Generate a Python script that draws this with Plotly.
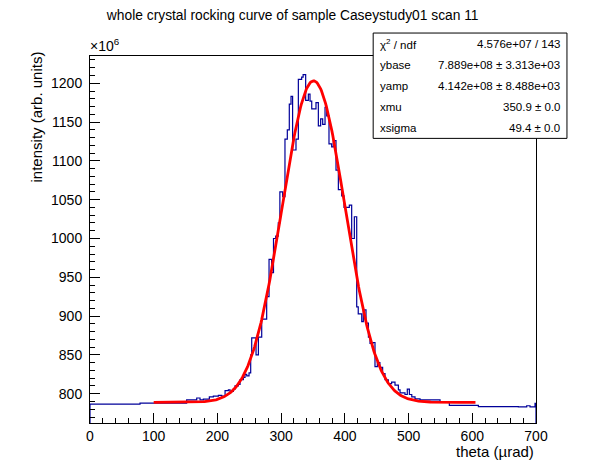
import numpy as np
import plotly.graph_objects as go

# histogram: left bin edges (urad) and contents (x 1e6)
bin_left = [0, 78.5, 151.7, 167.5, 172.7, 177.9, 187.3, 193.6, 201.5, 206.7,
            212.0, 217.2, 219.8, 225.0, 227.6, 232.9, 235.5, 240.7, 243.3, 246.0,
            249.6, 252.2, 253.8, 260.6, 264.3, 269.5, 277.3, 281.0, 285.0, 288.0,
            291.4, 295.5, 298.0, 302.4, 306.0, 309.7, 312.8, 315.5, 318.0, 323.3,
            327.0, 332.2, 334.5, 338.5, 342.7, 345.3, 348.0, 354.7, 358.4, 362.0,
            365.2, 368.9, 371.5, 375.1, 379.3, 381.9, 386.1, 389.8, 395.0, 398.7,
            407.0, 410.7, 414.9, 418.6, 421.0, 426.5, 429.0, 433.2, 437.0, 439.5,
            444.0, 447.3, 451.0, 455.0, 459.3, 463.0, 468.2, 473.4, 478.7, 484.0,
            486.6, 494.4, 498.0, 501.3, 505.0, 510.1, 518.0, 549.4, 564.0, 609.6,
            672.3, 685.4, 690.6, 698.5]
bin_val = [786.5, 787.8, 792, 794.5, 792, 793, 796, 797, 798, 797,
           804, 805, 803, 806, 810, 812, 818, 821, 825, 823,
           827, 850, 872, 850, 873, 896, 925, 973, 956, 1000,
           1003, 1020, 1060, 1054, 1128, 1140, 1173, 1183, 1114, 1128,
           1205, 1208, 1211, 1178, 1186, 1177, 1167, 1175, 1145, 1154,
           1147, 1169, 1158, 1122, 1118, 1126, 1088, 1063, 1055, 1040,
           1043, 1000, 1028, 912, 903, 893, 908, 891, 873, 865,
           866, 835, 840, 834, 826, 818, 813, 815, 811, 805,
           801, 799, 806, 799, 796, 793.5, 792, 789.5, 785, 783.5,
           783, 784.5, 783, 787.5]
bin_right_end = 700

# gaussian fit result
fit_range = [100, 605]
ybase, yamp, xmu, xsigma = 788.9, 414.2, 350.9, 49.4

stat_names = ["\u03c7<sup>2</sup> / ndf", "ybase", "yamp", "xmu", "xsigma"]
stat_vals = ["4.576e+07 / 143", "7.889e+08 \u00b1 3.313e+03",
             "4.142e+08 \u00b1 8.488e+03", "350.9 \u00b1 0.0", "49.4 \u00b1 0.0"]

X_RANGE = [0, 700]
Y_RANGE = [762.3, 1235.1]
FONT = "Liberation Sans, Arial, sans-serif"
HIST_COLOR = "#000099"

# page body has an 8px margin, so the figure is made 8px smaller and shifted
OFF = 8
W, H = 596 - OFF, 472 - OFF

fig = go.Figure()

# step outline, dropping to the frame at both ends like ROOT
hx = [bin_left[0]] + bin_left + [bin_right_end, bin_right_end]
hy = [Y_RANGE[0]] + bin_val + [bin_val[-1], Y_RANGE[0]]
fig.add_trace(go.Scatter(x=hx, y=hy, mode="lines", line_shape="hv",
                         line=dict(color=HIST_COLOR, width=1.2),
                         showlegend=False, hoverinfo="skip"))

fx = np.linspace(fit_range[0], fit_range[1], 400)
fy = ybase + yamp * np.exp(-0.5 * ((fx - xmu) / xsigma) ** 2)
fig.add_trace(go.Scatter(x=fx, y=fy, mode="lines",
                         line=dict(color="#ff0000", width=2.8),
                         showlegend=False, hoverinfo="skip"))

axis_common = dict(showgrid=False, zeroline=False, showline=True, mirror=True,
                   linecolor="black", linewidth=1, ticks="inside",
                   tickcolor="black", tickfont=dict(family=FONT, size=14, color="black"))

fig.update_xaxes(range=X_RANGE, dtick=100, tick0=0, ticklen=10,
                 minor=dict(dtick=20, ticks="inside", ticklen=5, tickcolor="black"),
                 **axis_common)
fig.update_yaxes(range=Y_RANGE, dtick=50, tick0=0, ticklen=10, ticklabelstandoff=4,
                 minor=dict(dtick=10, ticks="inside", ticklen=5, tickcolor="black"),
                 **axis_common)

# positions below are measured in page pixels
bx0, bx1, by0, by1 = 373, 567, 33, 138.5
pl, pr, pt, pb = 89.5, 536, 56, 423.5


def px2x(p):
    return (p - pl) / (pr - pl)


def py2y(p):
    return (pb - p) / (pb - pt)


# stats box (ROOT style)
fig.add_shape(type="rect", xref="paper", yref="paper",
              x0=px2x(bx0), x1=px2x(bx1), y0=py2y(by1), y1=py2y(by0),
              line=dict(color="black", width=1), fillcolor="white", layer="above")

row_h = (by1 - by0) / len(stat_names)
for i, (n, v) in enumerate(zip(stat_names, stat_vals)):
    yc = py2y(by0 + row_h * (i + 0.5))
    fig.add_annotation(x=px2x(bx0 + 5), y=yc, xref="paper", yref="paper",
                       text=n, showarrow=False, xanchor="left", yanchor="middle",
                       font=dict(family=FONT, size=11.5, color="black"))
    fig.add_annotation(x=px2x(bx1 - 5), y=yc, xref="paper", yref="paper",
                       text=v, showarrow=False, xanchor="right", yanchor="middle",
                       font=dict(family=FONT, size=11.5, color="black"))

# exponent label, axis titles
fig.add_annotation(x=0, y=1, xref="paper", yref="paper", text="\u00d710<sup>6</sup>",
                   showarrow=False, xanchor="left", yanchor="bottom", xshift=-2,
                   font=dict(family=FONT, size=14, color="black"))
fig.add_annotation(x=px2x(36), y=py2y(117), xref="paper", yref="paper",
                   text="intensity (arb. units)", textangle=-90, showarrow=False,
                   xanchor="center", yanchor="middle",
                   font=dict(family=FONT, size=15, color="black"))
fig.add_annotation(x=px2x(536), y=py2y(452.5), xref="paper", yref="paper",
                   text="theta (\u00b5rad)", showarrow=False,
                   xanchor="right", yanchor="middle",
                   font=dict(family=FONT, size=15, color="black"))

fig.update_layout(
    width=W, height=H,
    margin=dict(l=pl - OFF, r=W - (pr - OFF), t=pt - OFF, b=H - (pb - OFF)),
    paper_bgcolor="white", plot_bgcolor="white",
    title=dict(text="whole crystal rocking curve of sample Caseystudy01 scan 11",
               x=(292.7 - OFF) / W, xanchor="center", y=1 - (15 - OFF) / H,
               yanchor="middle",
               font=dict(family=FONT, size=13.8, color="black")),
)

fig.write_html("out.html")
